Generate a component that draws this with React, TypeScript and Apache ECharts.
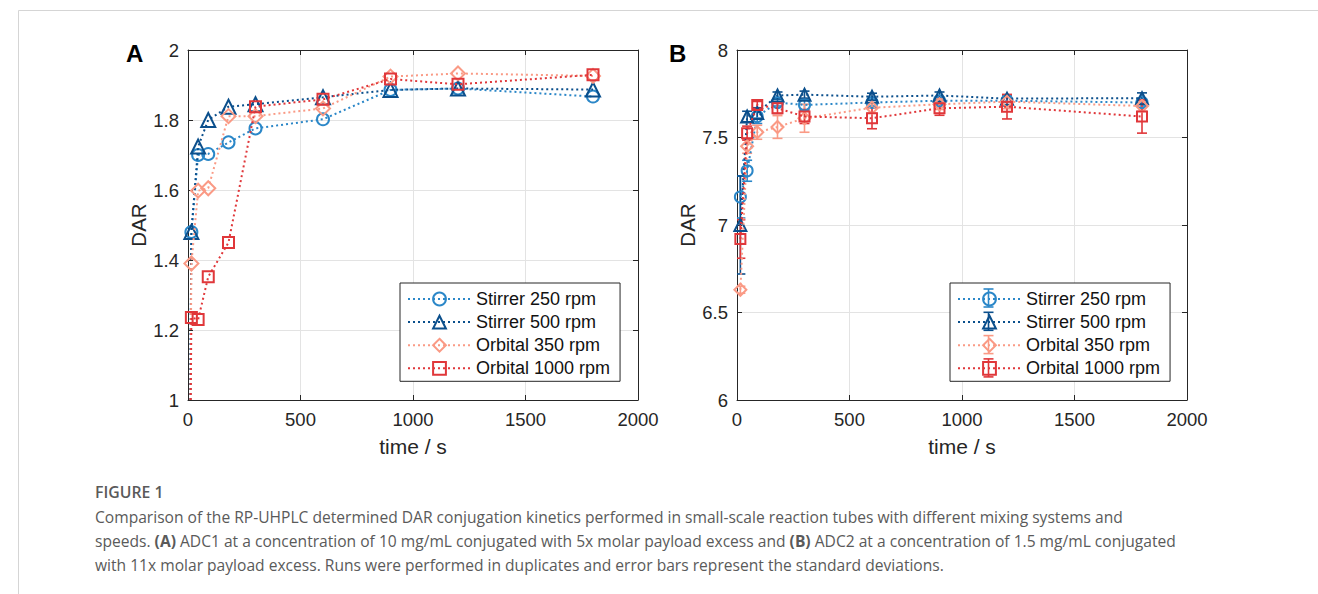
import React, { useEffect, useRef } from "react";
import * as echarts from "echarts";

const seriesNames = ["Stirrer 250 rpm", "Stirrer 500 rpm", "Orbital 350 rpm", "Orbital 1000 rpm"];
const colors = ["#2b87c8", "#0b4f8c", "#fa9a85", "#e0373a"];
const symbols = ["circle", "triangle", "diamond", "rect"];
const symbolSizesA = [12, 14, 14, 11];
const symbolSizesB = [11, 12, 12, 10];

// Panel A: time (s) and DAR
const timesA = [0, 15, 45, 90, 180, 300, 600, 900, 1200, 1800];
const darA_stirrer250 = [0, 1.48, 1.7, 1.703, 1.736, 1.776, 1.802, 1.886, 1.89, 1.867];
const darA_stirrer500 = [0, 1.48, 1.724, 1.8, 1.838, 1.845, 1.865, 1.886, 1.89, 1.887];
const darA_orbital350 = [0, 1.39, 1.598, 1.605, 1.811, 1.811, 1.833, 1.924, 1.933, 1.926];
const darA_orbital1000 = [0, 1.236, 1.23, 1.352, 1.45, 1.838, 1.859, 1.917, 1.902, 1.929];

// Panel B: time (s), DAR mean and standard deviation
const timesB = [15, 45, 90, 180, 300, 600, 900, 1200, 1800];
const darB_stirrer250 = [7.16, 7.31, 7.62, 7.7, 7.686, 7.7, 7.71, 7.71, 7.7];
const sdB_stirrer250 = [0.12, 0.06, 0.04, 0.02, 0.03, 0.02, 0.02, 0.03, 0.02];
const darB_stirrer500 = [7.0, 7.62, 7.64, 7.74, 7.745, 7.733, 7.74, 7.722, 7.725];
const sdB_stirrer500 = [0.28, 0.03, 0.03, 0.02, 0.02, 0.02, 0.02, 0.02, 0.03];
const darB_orbital350 = [6.63, 7.45, 7.53, 7.56, 7.61, 7.67, 7.69, 7.705, 7.68];
const sdB_orbital350 = [0.02, 0.04, 0.04, 0.065, 0.08, 0.03, 0.03, 0.04, 0.03];
const darB_orbital1000 = [6.92, 7.525, 7.686, 7.667, 7.62, 7.61, 7.667, 7.676, 7.62];
const sdB_orbital1000 = [0.11, 0.04, 0.02, 0.03, 0.04, 0.06, 0.04, 0.07, 0.095];

const captionTitle = "FIGURE 1";
const captionLine1 =
  "Comparison of the RP-UHPLC determined DAR conjugation kinetics performed in small-scale reaction tubes with different mixing systems and";
const captionLine2Parts = [
  ["n", "speeds. "],
  ["b", "(A)"],
  ["n", " ADC1 at a concentration of 10 mg/mL conjugated with 5x molar payload excess and "],
  ["b", "(B)"],
  ["n", " ADC2 at a concentration of 1.5 mg/mL conjugated"],
];
const captionLine3 =
  "with 11x molar payload excess. Runs were performed in duplicates and error bars represent the standard deviations.";

const darA = [darA_stirrer250, darA_stirrer500, darA_orbital350, darA_orbital1000];
const darB = [darB_stirrer250, darB_stirrer500, darB_orbital350, darB_orbital1000];
const sdB = [sdB_stirrer250, sdB_stirrer500, sdB_orbital350, sdB_orbital1000];

const FONT = "'Liberation Sans', Arial, sans-serif";
const CAP_FONT = "'Open Sans', 'Noto Sans', sans-serif";
const AX = "#262626";
const GRID_C = "#e3e3e3";

const GRIDS = [
  { left: 188, top: 50, width: 450, height: 350 },
  { left: 737, top: 50, width: 450, height: 350 },
];

function App() {
  const ref = useRef<HTMLDivElement>(null);
  useEffect(() => {
    if (!ref.current) return;
    const chart = echarts.init(ref.current, null, { renderer: "svg" });

    const xAxes: any[] = [];
    const yAxes: any[] = [];
    [0, 1].forEach((g) => {
      xAxes.push({
        type: "value",
        gridIndex: g,
        min: 0,
        max: 2000,
        interval: 500,
        position: "bottom",
        name: "time / s",
        nameLocation: "middle",
        nameGap: 36,
        nameTextStyle: { fontFamily: FONT, fontSize: 21, color: AX },
        axisLine: { show: true, onZero: false, lineStyle: { color: AX, width: 1 } },
        axisTick: { show: true, inside: true, length: 5, lineStyle: { color: AX } },
        axisLabel: {
          fontFamily: FONT,
          fontSize: 18.5,
          color: AX,
          margin: 10,
          formatter: (v: number) => String(v),
        },
        splitLine: { show: true, lineStyle: { color: GRID_C, width: 1 } },
      });
      xAxes.push({
        type: "value",
        gridIndex: g,
        min: 0,
        max: 2000,
        interval: 500,
        position: "top",
        axisLine: { show: true, onZero: false, lineStyle: { color: AX, width: 1 } },
        axisTick: { show: true, inside: true, length: 5, lineStyle: { color: AX } },
        axisLabel: { show: false },
        splitLine: { show: false },
      });
      const yMin = g === 0 ? 1 : 6;
      const yMax = g === 0 ? 2 : 8;
      const yInt = g === 0 ? 0.2 : 0.5;
      yAxes.push({
        type: "value",
        gridIndex: g,
        min: yMin,
        max: yMax,
        interval: yInt,
        position: "left",
        name: "DAR",
        nameLocation: "middle",
        nameGap: 38,
        nameRotate: 90,
        nameTextStyle: { fontFamily: FONT, fontSize: 20.5, color: AX },
        axisLine: { show: true, onZero: false, lineStyle: { color: AX, width: 1 } },
        axisTick: { show: true, inside: true, length: 5, lineStyle: { color: AX } },
        axisLabel: {
          fontFamily: FONT,
          fontSize: 18.5,
          color: AX,
          margin: 9,
          formatter: (v: number) => String(Math.round(v * 10) / 10),
        },
        splitLine: { show: true, lineStyle: { color: GRID_C, width: 1 } },
      });
      yAxes.push({
        type: "value",
        gridIndex: g,
        min: yMin,
        max: yMax,
        interval: yInt,
        position: "right",
        axisLine: { show: true, onZero: false, lineStyle: { color: AX, width: 1 } },
        axisTick: { show: true, inside: true, length: 5, lineStyle: { color: AX } },
        axisLabel: { show: false },
        splitLine: { show: false },
      });
    });

    const series: any[] = [];
    // Panel A lines
    seriesNames.forEach((name, i) => {
      series.push({
        type: "line",
        name,
        xAxisIndex: 0,
        yAxisIndex: 0,
        data: timesA.map((t, k) =>
          t === 0 ? { value: [t, darA[i][k]], symbol: "none" } : [t, darA[i][k]]
        ),
        symbol: symbols[i],
        symbolSize: symbolSizesA[i],
        showAllSymbol: true,
        clip: true,
        lineStyle: { color: colors[i], width: 2, type: [2, 3] },
        itemStyle: { color: "rgba(255,255,255,0)", borderColor: colors[i], borderWidth: 2 },
        z: 3 + i,
      });
    });
    // Panel B error bars
    seriesNames.forEach((name, i) => {
      series.push({
        type: "custom",
        name: name + " SD",
        xAxisIndex: 2,
        yAxisIndex: 2,
        data: timesB.map((t, k) => [t, darB[i][k], sdB[i][k]]),
        clip: true,
        z: 2,
        renderItem: (params: any, api: any) => {
          const x = api.value(0);
          const y = api.value(1);
          const e = api.value(2);
          const hi = api.coord([x, y + e]);
          const lo = api.coord([x, y - e]);
          const w = 5;
          const st = { stroke: colors[i], lineWidth: 1.6 };
          return {
            type: "group",
            children: [
              { type: "line", shape: { x1: hi[0], y1: hi[1], x2: lo[0], y2: lo[1] }, style: st },
              { type: "line", shape: { x1: hi[0] - w, y1: hi[1], x2: hi[0] + w, y2: hi[1] }, style: st },
              { type: "line", shape: { x1: lo[0] - w, y1: lo[1], x2: lo[0] + w, y2: lo[1] }, style: st },
            ],
          };
        },
      });
    });
    // Panel B lines
    seriesNames.forEach((name, i) => {
      series.push({
        type: "line",
        name,
        xAxisIndex: 2,
        yAxisIndex: 2,
        data: timesB.map((t, k) => [t, darB[i][k]]),
        symbol: symbols[i],
        symbolSize: symbolSizesB[i],
        showAllSymbol: true,
        clip: true,
        lineStyle: { color: colors[i], width: 2, type: [2, 3] },
        itemStyle: { color: "rgba(255,255,255,0)", borderColor: colors[i], borderWidth: 2 },
        z: 3 + i,
      });
    });

    const legendBase = {
      orient: "vertical",
      top: 283,
      padding: [7, 10, 4, 7],
      itemWidth: 63,
      itemHeight: 16,
      itemGap: 5.1,
      backgroundColor: "#ffffff",
      borderColor: AX,
      borderWidth: 1,
      borderRadius: 0,
      selectedMode: false,
      textStyle: { fontFamily: FONT, fontSize: 18, color: "#111", lineHeight: 16 },
      data: seriesNames,
    };

    const legendRowY = [298, 321.3, 344.6, 367.9];
    const legendBx = 950 + 7 + 31.5;
    const legendErr: any[] = [];
    legendRowY.forEach((y, i) => {
      const st = { stroke: colors[i], lineWidth: 1.6 };
      legendErr.push(
        { type: "line", shape: { x1: legendBx, y1: y - 9, x2: legendBx, y2: y + 9 }, style: st, z: 200 },
        { type: "line", shape: { x1: legendBx - 5, y1: y - 9, x2: legendBx + 5, y2: y - 9 }, style: st, z: 200 },
        { type: "line", shape: { x1: legendBx - 5, y1: y + 9, x2: legendBx + 5, y2: y + 9 }, style: st, z: 200 }
      );
    });

    const rich = {
      n: { fontFamily: CAP_FONT, fontSize: 15.6, fill: "#5a5a5a" },
      b: { fontFamily: CAP_FONT, fontSize: 15.6, fill: "#5a5a5a", fontWeight: "bold" },
    };

    chart.setOption({
      animation: false,
      backgroundColor: "#ffffff",
      grid: GRIDS.map((g) => ({ ...g, containLabel: false })),
      xAxis: xAxes,
      yAxis: yAxes,
      series,
      legend: [
        { ...legendBase, left: 400 },
        { ...legendBase, left: 950 },
      ],
      graphic: [
        { type: "line", shape: { x1: 18.5, y1: 10.5, x2: 1318, y2: 10.5 }, style: { stroke: "#d5d5d5", lineWidth: 1 }, silent: true },
        { type: "line", shape: { x1: 18.5, y1: 10.5, x2: 18.5, y2: 594 }, style: { stroke: "#d5d5d5", lineWidth: 1 }, silent: true },
        {
          type: "text",
          x: 126,
          y: 53,
          style: { text: "A", font: `bold 24px ${FONT}`, fill: "#000", verticalAlign: "middle" },
        },
        {
          type: "text",
          x: 669,
          y: 53,
          style: { text: "B", font: `bold 24px ${FONT}`, fill: "#000", verticalAlign: "middle" },
        },
        {
          type: "text",
          x: 95,
          y: 492,
          style: {
            text: captionTitle,
            font: `600 15.8px ${CAP_FONT}`,
            fill: "#5a5a5a",
            verticalAlign: "middle",
          },
        },
        {
          type: "text",
          x: 95,
          y: 517,
          style: { text: "{n|" + captionLine1 + "}", rich, verticalAlign: "middle" },
        },
        {
          type: "text",
          x: 95,
          y: 541,
          style: {
            text: captionLine2Parts.map(([k, s]) => `{${k}|${s}}`).join(""),
            rich,
            verticalAlign: "middle",
          },
        },
        {
          type: "text",
          x: 95,
          y: 565,
          style: { text: "{n|" + captionLine3 + "}", rich, verticalAlign: "middle" },
        },
        ...legendErr,
      ],
    });
    return () => chart.dispose();
  }, []);
  return (
    <div
      ref={ref}
      style={{ position: "fixed", left: 0, top: 0, width: 1318, height: 594, background: "#fff" }}
    />
  );
}

export default App;
